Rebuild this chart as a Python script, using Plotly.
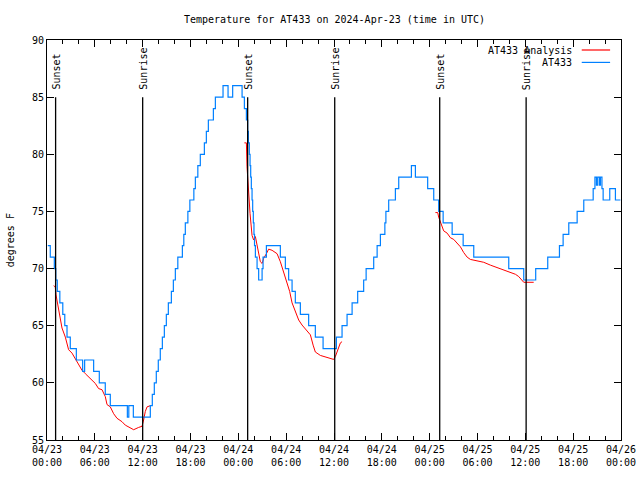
import plotly.graph_objects as go

# ---------------- data (hours since 2024-04-23 00:00 UTC, degrees F) ----------------
obs_hours = [0.10, 0.41, 0.92, 1.10, 1.29, 1.61, 1.98, 2.23, 2.51, 2.92, 3.68, 4.47, 4.72,
             5.85, 6.56, 7.31, 7.94, 10.08, 10.26, 10.83, 12.96, 13.21, 13.46, 13.71, 13.96,
             14.21, 14.47, 14.72, 14.97, 15.22, 15.60, 15.85, 16.10, 16.41, 16.98, 17.16,
             17.35, 17.67, 17.92, 18.42, 18.61, 18.92, 19.23, 19.74, 19.99, 20.24, 20.87,
             21.12, 22.08, 22.71, 23.29, 24.47, 24.76, 25.01, 25.17, 25.26, 25.38, 25.47,
             25.55, 25.63, 25.72, 25.80, 25.88, 25.96, 26.03, 26.14, 26.35, 26.55, 26.98,
             27.10, 27.52, 29.27, 29.90, 30.31, 30.74, 31.15, 31.78, 32.82, 33.66, 34.63,
             36.30, 37.01, 37.64, 38.27, 38.97, 39.72, 40.03, 40.98, 41.41, 41.82, 42.38,
             42.51, 42.86, 43.70, 44.12, 45.71, 46.21, 47.75, 48.51, 49.13, 49.69, 50.82,
             52.20, 53.53, 57.92, 59.80, 61.30, 62.81, 64.28, 64.74, 65.45, 66.50, 67.33,
             68.51, 68.73, 68.92, 69.08, 69.30, 69.42, 69.61, 69.76, 70.59, 71.30, 71.92]
obs_temps = [72, 71, 70, 69, 68, 67, 66, 65, 64, 63, 62, 61, 62,
             61, 60, 59, 58, 57, 58, 57, 58, 59, 60, 61, 62,
             63, 64, 65, 66, 67, 68, 69, 70, 71, 72, 73,
             74, 75, 76, 77, 78, 79, 80, 81, 82, 83, 84,
             85, 86, 85, 86, 85, 84, 83, 82, 81, 80, 79,
             78, 77, 76, 75, 74, 73, 72, 71, 70, 69, 70,
             71, 72, 71, 70, 69, 68, 67, 66, 65, 64, 63,
             64, 65, 66, 67, 68, 69, 70, 71, 72, 73, 74,
             75, 76, 77, 78, 79, 78, 77, 76, 75, 74, 73,
             72, 71, 70, 69, 70, 71, 72, 73, 74, 75, 76,
             77, 78, 77.3, 78, 77.3, 78, 77, 76, 77, 76, 76]

ana_hours = [0.83, 1.04, 1.13, 1.46, 1.67, 1.88, 2.30, 2.51, 2.71, 3.14, 3.76, 4.39, 4.81,
             5.65, 6.06, 6.47, 6.90, 7.31, 7.53, 7.94, 8.36, 8.78, 9.41, 9.82, 10.45, 10.87,
             11.49, 11.92, 12.12, 12.33, 12.55, 12.96, None,
             24.76, 25.01, 25.09, 25.30, 25.47, 25.72, 25.92, 26.14, 26.35, 26.55, 26.76,
             26.98, 27.18, 27.52, 27.80, 28.23, 28.86, 29.27, 29.69, 30.11, 30.44, 30.74,
             31.15, 31.57, 31.99, 32.62, 33.04, 33.38, 33.66, 34.29, 35.13, 35.96, 36.17,
             36.46, 36.80, 37.01, None,
             48.72, 49.01, 49.13, 49.35, 49.56, 49.76, 50.19, 50.60, 51.02, 51.44, 51.86,
             52.27, 52.70, 53.11, 53.95, 54.78, 55.62, 56.46, 57.29, 58.13, 58.76, 59.17,
             59.60, 59.80, 61.05]
ana_temps = [68.5, 68.4, 67.7, 66.5, 65.4, 64.8, 64.0, 63.3, 62.9, 62.6, 61.85, 61.1, 60.8,
             60.2, 59.95, 59.5, 59.4, 58.8, 58.1, 57.9, 57.3, 56.9, 56.6, 56.3, 56.1, 55.9,
             56.1, 56.2, 56.75, 57.5, 57.9, 58.0, None,
             81.0, 81.0, 78.9, 76.3, 74.8, 72.9, 72.5, 72.8, 72.1, 71.2, 70.6,
             70.45, 70.9, 71.3, 71.7, 71.6, 71.3, 70.6, 69.7, 68.85, 68.0, 67.0,
             66.2, 65.5, 65.06, 64.6, 64.2, 63.3, 62.7, 62.4, 62.2, 62.05, 62.3,
             62.9, 63.5, 63.6, None,
             74.9, 74.9, 74.5, 74.1, 73.7, 73.3, 73.1, 72.7, 72.55, 72.2, 71.9,
             71.4, 71.0, 70.8, 70.7, 70.55, 70.3, 70.1, 69.9, 69.7, 69.5, 69.3,
             69.0, 68.8, 68.8]

sun_hours = [1.08, 12.0, 25.17, 36.09, 49.26, 60.1]
sun_labels = ["Sunset", "Sunrise", "Sunset", "Sunrise", "Sunset", "Sunrise"]

x_tick_vals = [0, 6, 12, 18, 24, 30, 36, 42, 48, 54, 60, 66, 72]
x_tick_text = ["04/23<br>00:00", "04/23<br>06:00", "04/23<br>12:00", "04/23<br>18:00",
               "04/24<br>00:00", "04/24<br>06:00", "04/24<br>12:00", "04/24<br>18:00",
               "04/25<br>00:00", "04/25<br>06:00", "04/25<br>12:00", "04/25<br>18:00",
               "04/26<br>00:00"]
y_tick_vals = [55, 60, 65, 70, 75, 80, 85, 90]

title_text = "Temperature for AT433 on 2024-Apr-23 (time in UTC)"
series_names = ["AT433 Analysis", "AT433"]
series_colors = ["#ff0000", "#0080ff"]

FONT = "DejaVu Sans Mono"

fig = go.Figure()

fig.add_trace(go.Scatter(x=ana_hours, y=ana_temps, mode="lines", name=series_names[0],
                         line=dict(color=series_colors[0], width=1), connectgaps=False,
                         showlegend=False))
fig.add_trace(go.Scatter(x=obs_hours, y=obs_temps, mode="lines", name=series_names[1],
                         line=dict(color=series_colors[1], width=1.2, shape="hv"),
                         showlegend=False))

shapes = []
annotations = []
for h, lab in zip(sun_hours, sun_labels):
    shapes.append(dict(type="line", xref="x", yref="y", x0=h, x1=h, y0=55, y1=85,
                       line=dict(color="black", width=1.3), layer="above"))
    annotations.append(dict(x=h, y=85.45, xref="x", yref="y", text=lab, showarrow=False,
                            textangle=-90, xanchor="center", yanchor="bottom",
                            font=dict(family=FONT, size=10, color="black")))

# legend (gnuplot style: text then sample line)
leg_y = [0.975, 0.944]
for i, (nm, col) in enumerate(zip(series_names, series_colors)):
    annotations.append(dict(x=0.918, y=leg_y[i], xref="paper", yref="paper", text=nm,
                            showarrow=False, xanchor="right", yanchor="middle",
                            font=dict(family=FONT, size=10, color="black")))
    shapes.append(dict(type="line", xref="paper", yref="paper", x0=0.9316, x1=0.981,
                       y0=leg_y[i], y1=leg_y[i], line=dict(color=col, width=1.2)))

annotations.append(dict(x=0.5, y=1.0, xref="paper", yref="paper", yshift=21,
                        text=title_text, showarrow=False, xanchor="center", yanchor="middle",
                        font=dict(family=FONT, size=10, color="black")))
annotations.append(dict(x=-0.064, y=0.5, xref="paper", yref="paper", text="degrees F",
                        showarrow=False, textangle=-90, xanchor="center", yanchor="middle",
                        font=dict(family=FONT, size=10, color="black")))

fig.update_layout(
    width=640, height=480,
    margin=dict(l=47, r=19, t=40, b=40, autoexpand=False),
    paper_bgcolor="white", plot_bgcolor="white",
    font=dict(family=FONT, size=10, color="black"),
    shapes=shapes, annotations=annotations, showlegend=False,
    xaxis=dict(range=[0, 72], tickmode="array", tickvals=x_tick_vals, ticktext=x_tick_text,
               ticks="inside", ticklen=7, tickcolor="black", showgrid=False, zeroline=False,
               showline=True, linecolor="black", linewidth=1, mirror="ticks",
               automargin=False,
               minor=dict(dtick=2, tick0=0, ticks="inside", ticklen=4, tickcolor="black",
                          showgrid=False),
               tickfont=dict(family=FONT, size=10)),
    yaxis=dict(range=[55, 90], tickmode="array", tickvals=y_tick_vals,
               ticks="inside", ticklen=7, tickcolor="black", showgrid=False, zeroline=False,
               showline=True, linecolor="black", linewidth=1, mirror="ticks",
               automargin=False,
               tickfont=dict(family=FONT, size=10)),
)

fig.write_html("out.html")
